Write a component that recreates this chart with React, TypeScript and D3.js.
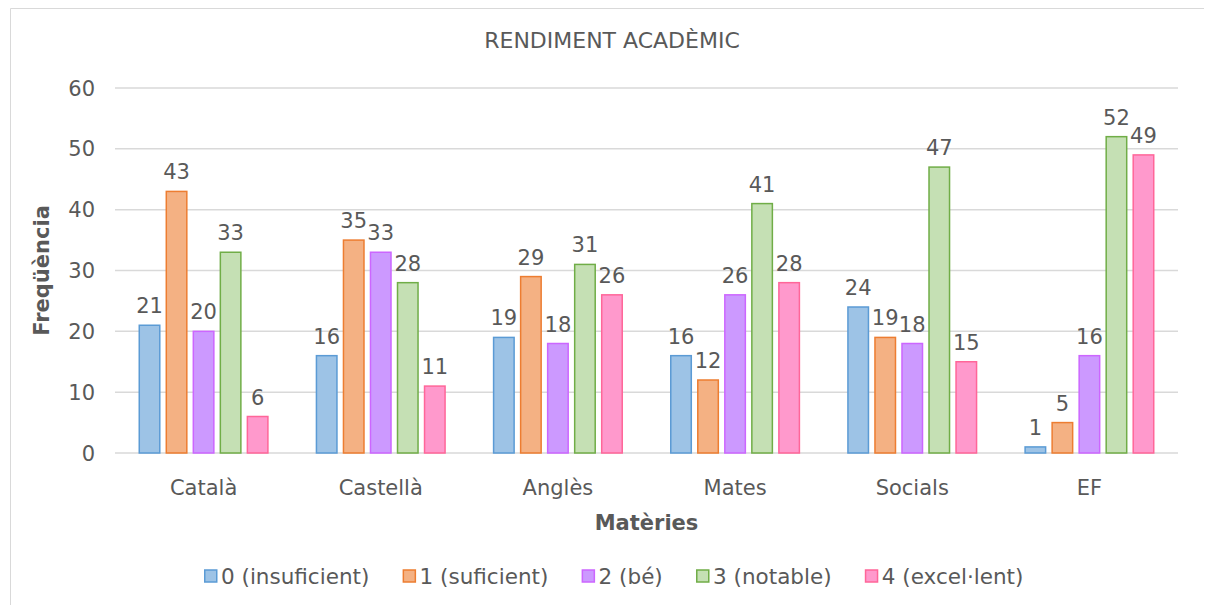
import { useEffect, useRef } from 'react';
import * as d3 from 'd3';

const width = 1206;
const height = 605;
// plot area
const [pl, pr, pt, pb] = [115, 1178, 88, 453];

const subjects = ['Català', 'Castellà', 'Anglès', 'Mates', 'Socials', 'EF'];
const grades = ['0 (insuficient)', '1 (suficient)', '2 (bé)', '3 (notable)', '4 (excel·lent)'];
const insuficient = [21, 16, 19, 16, 24, 1];
const suficient = [43, 35, 29, 12, 19, 5];
const be = [20, 33, 18, 26, 18, 16];
const notable = [33, 28, 31, 41, 47, 52];
const excellent = [6, 11, 26, 28, 15, 49];
const yTicks = [0, 10, 20, 30, 40, 50, 60];

const fills = ['#9dc3e6', '#f4b183', '#cc99ff', '#c5e0b4', '#ff99cc'];
const strokes = ['#5b9bd5', '#ed7d31', '#cc66ff', '#70ad47', '#ff6699'];

const font = "'DejaVu Sans', Verdana, sans-serif";
const textColor = '#595959';
const fs = 21;

export default function App() {
    const ref = useRef<SVGSVGElement | null>(null);

    useEffect(() => {
        const svg = d3.select(ref.current);
        svg.selectAll('*').remove();

        const series = [insuficient, suficient, be, notable, excellent];

        // marc del gràfic (només es veuen la vora superior i l'esquerra)
        svg.append('path')
            .attr('d', `M10.5,${height}V8.5H1204`)
            .attr('fill', 'none')
            .attr('stroke', '#d9d9d9');

        const x = d3.scaleBand<string>().domain(subjects).range([pl, pr]).padding(0);
        const xi = d3
            .scaleBand<number>()
            .domain(d3.range(grades.length))
            .range([0, x.bandwidth()])
            .paddingInner(0.185)
            .paddingOuter(0.87);
        const y = d3.scaleLinear().domain([0, 60]).range([pb, pt]);

        // graella
        svg.append('g')
            .selectAll('line')
            .data(yTicks)
            .join('line')
            .attr('x1', pl)
            .attr('x2', pr)
            .attr('y1', (d) => y(d))
            .attr('y2', (d) => y(d))
            .attr('stroke', '#d9d9d9')
            .attr('stroke-width', 1.5);

        // etiquetes eix y
        svg.append('g')
            .selectAll('text')
            .data(yTicks)
            .join('text')
            .attr('x', 95)
            .attr('y', (d) => y(d))
            .attr('dy', '0.36em')
            .attr('text-anchor', 'end')
            .attr('font-family', font)
            .attr('font-size', fs)
            .attr('fill', textColor)
            .text((d) => d);

        // barres
        const groups = svg
            .append('g')
            .selectAll('g')
            .data(subjects)
            .join('g')
            .attr('transform', (d) => `translate(${x(d)},0)`);

        groups.each(function (_s, ci) {
            const g = d3.select(this);
            const vals = series.map((arr) => arr[ci]);
            g.selectAll('rect')
                .data(vals)
                .join('rect')
                .attr('x', (_d, i) => xi(i)! + 0.75)
                .attr('width', xi.bandwidth() - 1.5)
                .attr('y', (d) => y(d))
                .attr('height', (d) => y(0) - y(d))
                .attr('fill', (_d, i) => fills[i])
                .attr('stroke', (_d, i) => strokes[i])
                .attr('stroke-width', 1.5);
            g.selectAll('text')
                .data(vals)
                .join('text')
                .attr('x', (_d, i) => xi(i)! + xi.bandwidth() / 2)
                .attr('y', (d) => y(d) - 12)
                .attr('text-anchor', 'middle')
                .attr('font-family', font)
                .attr('font-size', fs)
                .attr('fill', textColor)
                .text((d) => d);
        });

        // etiquetes eix x
        svg.append('g')
            .selectAll('text')
            .data(subjects)
            .join('text')
            .attr('x', (d) => x(d)! + x.bandwidth() / 2)
            .attr('y', 495)
            .attr('text-anchor', 'middle')
            .attr('font-family', font)
            .attr('font-size', fs)
            .attr('fill', textColor)
            .text((d) => d);

        // títol
        svg.append('text')
            .attr('x', 612)
            .attr('y', 48)
            .attr('text-anchor', 'middle')
            .attr('font-family', font)
            .attr('font-size', 22)
            .attr('fill', textColor)
            .text('RENDIMENT ACADÈMIC');

        // títols dels eixos
        svg.append('text')
            .attr('x', (pl + pr) / 2)
            .attr('y', 530)
            .attr('text-anchor', 'middle')
            .attr('font-family', font)
            .attr('font-size', fs)
            .attr('font-weight', 'bold')
            .attr('fill', textColor)
            .text('Matèries');

        svg.append('text')
            .attr('transform', `translate(49,${(pt + pb) / 2}) rotate(-90)`)
            .attr('text-anchor', 'middle')
            .attr('font-family', font)
            .attr('font-size', fs)
            .attr('font-weight', 'bold')
            .attr('fill', textColor)
            .text('Freqüència');

        // llegenda
        const legend = svg.append('g').attr('transform', 'translate(0,576)');
        const items = legend
            .selectAll('g')
            .data(grades)
            .join('g');
        items.append('rect')
            .attr('x', 0.75)
            .attr('y', -6)
            .attr('width', 12)
            .attr('height', 12)
            .attr('fill', (_d, i) => fills[i])
            .attr('stroke', (_d, i) => strokes[i])
            .attr('stroke-width', 1.5);
        items.append('text')
            .attr('x', 17)
            .attr('dy', '0.36em')
            .attr('font-family', font)
            .attr('font-size', 21.5)
            .attr('fill', textColor)
            .text((d) => d);

        const widths: number[] = [];
        items.each(function () {
            widths.push((this as SVGGElement).getBBox().width);
        });
        const gap = 34;
        let cx = 204;
        items.attr('transform', (_d, i) => {
            const t = `translate(${cx},0)`;
            cx += widths[i] + gap;
            return t;
        });
    }, []);

    return (
        <svg
            ref={ref}
            width={width}
            height={height}
            style={{ position: 'absolute', left: 0, top: 0, background: '#fff' }}
        />
    );
}
